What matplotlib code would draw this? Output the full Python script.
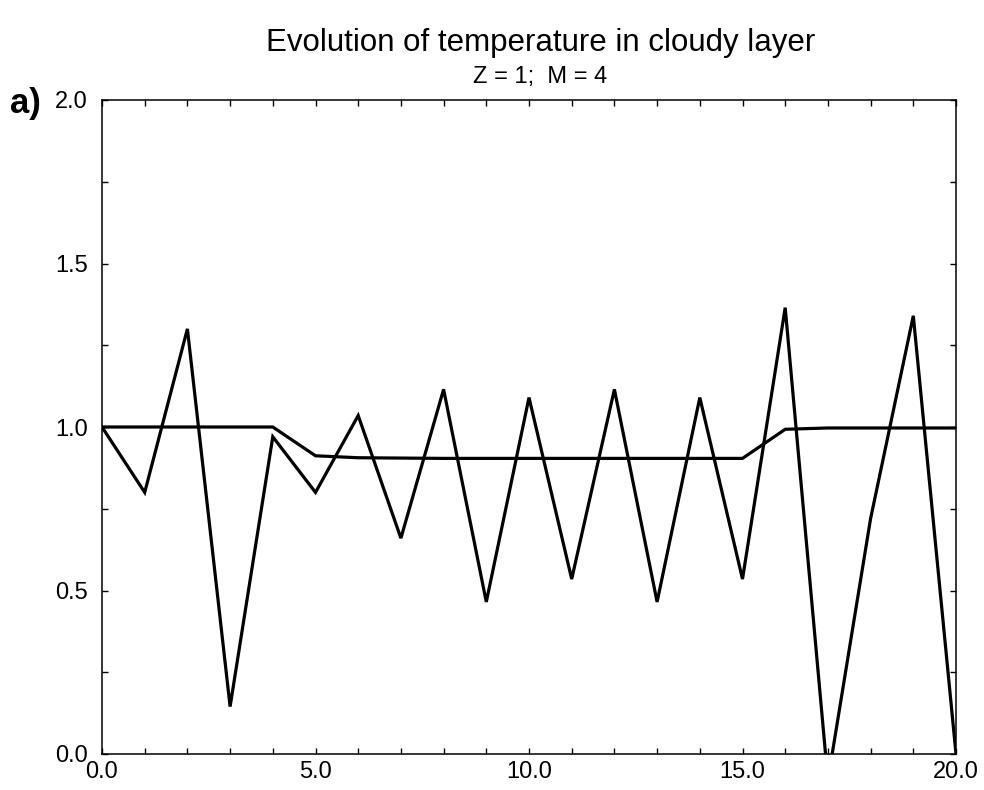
import matplotlib.pyplot as plt
from matplotlib.ticker import MultipleLocator, FormatStrFormatter

plt.rcParams['font.family'] = ['Liberation Sans', 'DejaVu Sans']

# time steps and the two temperature series
steps = list(range(21))
temp_oscillating = [1.00, 0.80, 1.30, 0.145, 0.97, 0.80, 1.035, 0.66, 1.115, 0.465,
                    1.09, 0.535, 1.115, 0.465, 1.09, 0.535, 1.365, -0.08, 0.72, 1.34,
                    0.00]
temp_smooth = [1.00, 1.00, 1.00, 1.00, 1.00, 0.912, 0.906, 0.905, 0.904, 0.904,
               0.904, 0.904, 0.904, 0.904, 0.904, 0.904, 0.993, 0.997, 0.997, 0.997,
               0.997]

x_ticks = [0, 5, 10, 15, 20]
y_ticks = [0.0, 0.5, 1.0, 1.5, 2.0]

fig = plt.figure(figsize=(9.84, 7.9), dpi=100)
ax = fig.add_axes([102 / 984, 1 - 754 / 790, 854 / 984, 654 / 790])

ax.plot(steps, temp_smooth, color='black', lw=2.3, solid_joinstyle='miter')
ax.plot(steps, temp_oscillating, color='black', lw=2.3, solid_joinstyle='miter')

ax.set_xlim(0, 20)
ax.set_ylim(0, 2)
ax.set_xticks(x_ticks)
ax.set_yticks(y_ticks)
ax.xaxis.set_minor_locator(MultipleLocator(1))
ax.yaxis.set_minor_locator(MultipleLocator(0.25))
ax.xaxis.set_major_formatter(FormatStrFormatter('%.1f'))
ax.yaxis.set_major_formatter(FormatStrFormatter('%.1f'))

ax.tick_params(which='both', direction='in', top=True, right=True,
               length=4, width=1, labelsize=17)
ax.tick_params(axis='x', pad=5)
ax.tick_params(axis='y', pad=10)
for s in ax.spines.values():
    s.set_linewidth(1.1)

fig.text(0.549, 0.946, 'Evolution of temperature in cloudy layer',
         ha='center', va='center', fontsize=22.5)
fig.text(0.549, 0.902, 'Z = 1;  M = 4', ha='center', va='center', fontsize=17)
fig.text(0.010, 0.869, 'a)', ha='left', va='center', fontsize=25,
         fontweight='bold')

fig.savefig('out.png', dpi=100)
